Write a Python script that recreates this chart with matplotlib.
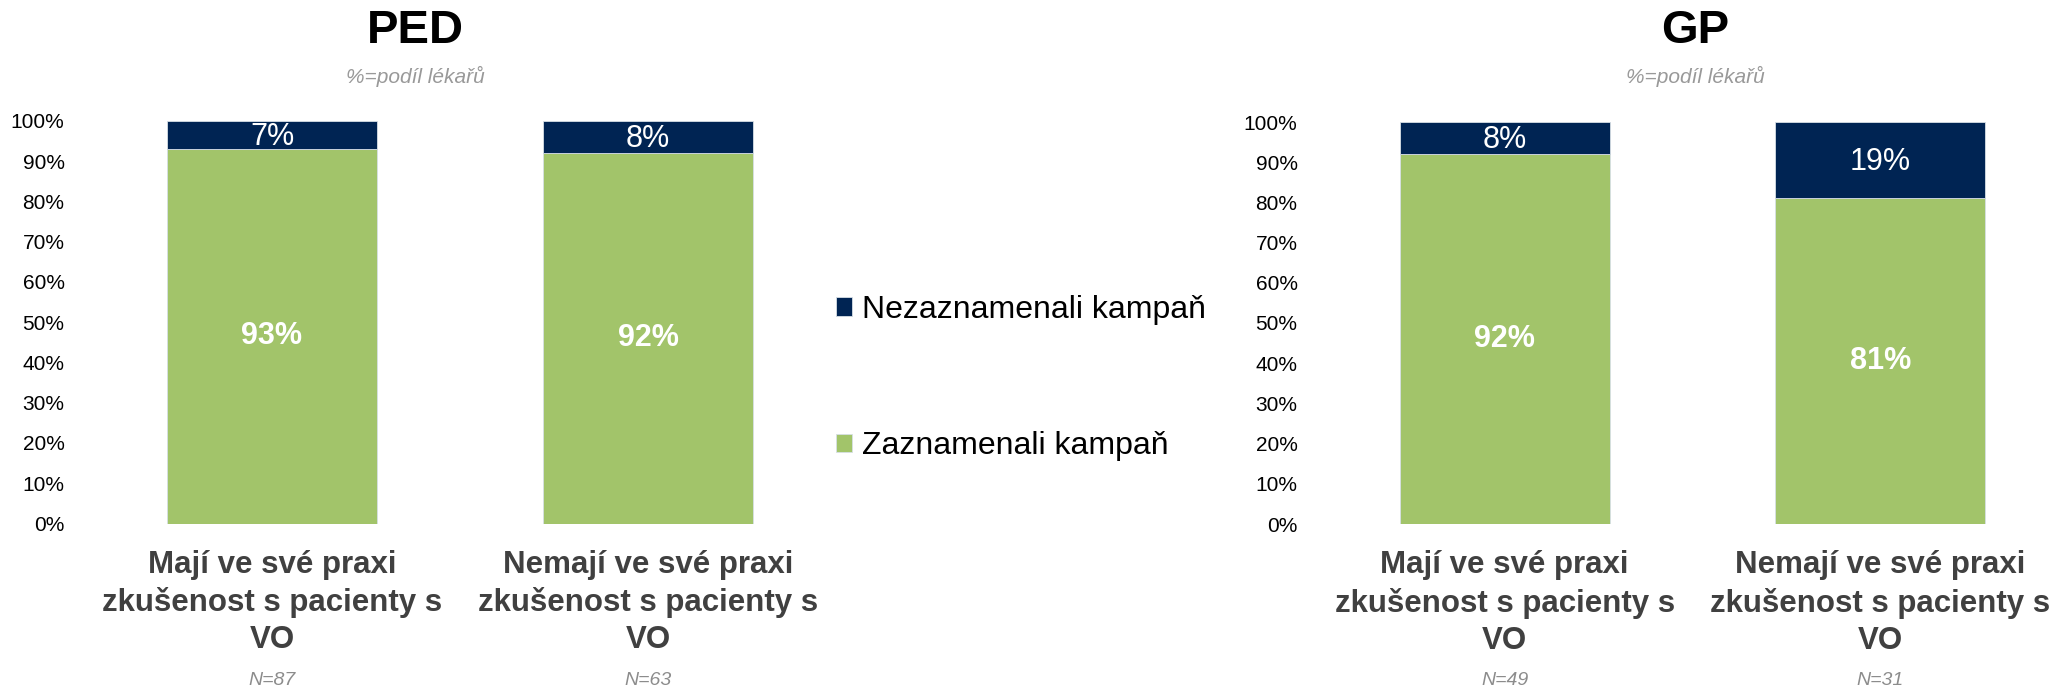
import matplotlib.pyplot as plt
from matplotlib.ticker import PercentFormatter

plt.rcParams['font.family'] = ['Liberation Sans', 'DejaVu Sans']

# data
categories = ["Mají ve své praxi\nzkušenost s pacienty s\nVO",
              "Nemají ve své praxi\nzkušenost s pacienty s\nVO"]
ped_noticed = [93, 92]
ped_not_noticed = [7, 8]
ped_n = ["N=87", "N=63"]
gp_noticed = [92, 81]
gp_not_noticed = [8, 19]
gp_n = ["N=49", "N=31"]
label_noticed = "Zaznamenali kampaň"
label_not_noticed = "Nezaznamenali kampaň"
panel_titles = ["PED", "GP"]
subtitle = "%=podíl lékařů"

GREEN = "#A2C46A"
NAVY = "#002453"
W, H = 2056, 690

fig = plt.figure(figsize=(W / 100, H / 100), dpi=100)


def px_axes(left, top, right, bottom):
    return fig.add_axes([left / W, 1 - bottom / H, (right - left) / W, (bottom - top) / H])


def draw_panel(ax, noticed, not_noticed, ns):
    x = [0, 1]
    b1 = ax.bar(x, noticed, width=0.56, color=GREEN, edgecolor="#d7dfe6", linewidth=0.6,
                label=label_noticed)
    b2 = ax.bar(x, not_noticed, width=0.56, bottom=noticed, color=NAVY, edgecolor="#d7dfe6",
                linewidth=0.6, label=label_not_noticed)
    for i in x:
        ax.text(i, noticed[i] / 2, f"{noticed[i]}%", ha="center", va="center",
                color="white", fontsize=22, fontweight="bold")
        ax.text(i, noticed[i] + not_noticed[i] / 2 - 0.5, f"{not_noticed[i]}%", ha="center",
                va="center", color="white", fontsize=22)
        ax.annotate(ns[i], xy=(i, -0.39), xycoords=("data", "axes fraction"),
                    ha="center", va="center", fontsize=14, style="italic", color="#8c8c8c")
    ax.set_xlim(-0.5, 1.5)
    ax.set_ylim(0, 100)
    ax.set_yticks(range(0, 101, 10))
    ax.yaxis.set_major_formatter(PercentFormatter(decimals=0))
    ax.tick_params(axis="y", length=0, pad=14, labelsize=15)
    ax.set_xticks(x)
    ax.set_xticklabels(categories, fontsize=22.5, fontweight="bold", color="#404040")
    ax.tick_params(axis="x", length=0, pad=19)
    for t in ax.get_xticklabels():
        t.set_linespacing(1.31)
    for s in ax.spines.values():
        s.set_visible(False)
    return b1, b2


ax1 = px_axes(84, 121, 836, 523.5)
h_noticed, h_not = draw_panel(ax1, ped_noticed, ped_not_noticed, ped_n)
ax2 = px_axes(1317, 122, 2068, 524)
draw_panel(ax2, gp_noticed, gp_not_noticed, gp_n)

# titles
for cx, title in zip([415, 1695], panel_titles):
    fig.text(cx / W, 1 - 31 / H, title, ha="center", va="center", fontsize=34,
             fontweight="bold", color="black")
    fig.text(cx / W, 1 - 76 / H, subtitle, ha="center", va="center", fontsize=15,
             style="italic", color="#999999")

fig.legend([h_not, h_noticed], [label_not_noticed, label_noticed],
           loc="center left", bbox_to_anchor=(836 / W, 1 - 378 / H), frameon=False,
           fontsize=23, handlelength=0.5, handleheight=0.5, handletextpad=0.3,
           labelspacing=3.33, borderpad=0, borderaxespad=0)

fig.savefig("out.png", dpi=100)
